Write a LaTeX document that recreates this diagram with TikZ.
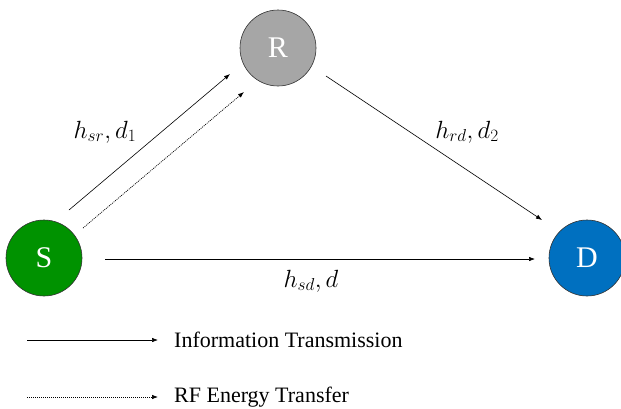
\documentclass[tikz,border=0pt]{standalone}
\usepackage{fontspec}
\setmainfont{Liberation Serif}
\usetikzlibrary{arrows.meta}
\definecolor{sgreen}{RGB}{0,146,0}
\definecolor{rgray}{RGB}{166,166,166}
\definecolor{dblue}{RGB}{0,112,192}
\tikzset{
  nodecirc/.style={circle, draw=black!80, line width=0.6pt, minimum size=76pt, inner sep=0pt, text=white, font=\fontsize{30}{34}\selectfont},
  arr/.style={-{Latex[length=6pt,width=4.5pt]}, line width=0.6pt},
  dotarr/.style={arr, dash pattern=on 1pt off 1pt, line width=0.7pt},
  lbl/.style={font=\fontsize{23}{26}\selectfont},
  legtxt/.style={anchor=west, font=\fontsize{22}{25}\selectfont, inner sep=0pt}
}
\begin{document}
\begin{tikzpicture}[x=1pt,y=-1pt]
\useasboundingbox (0,0) rectangle (621,408);
\node[nodecirc, fill=sgreen] (S) at (44,258) {S};
\node[nodecirc, fill=rgray] (R) at (278,48) {R};
\node[nodecirc, fill=dblue] (D) at (587,258) {D};
\coordinate (a1) at (69,210);
\coordinate (a2) at (230,74);
\coordinate (b1) at (83,228);
\coordinate (b2) at (244,92);
\coordinate (c1) at (326,76);
\coordinate (c2) at (542,220);
\coordinate (e1) at (105,259);
\coordinate (e2) at (535,259);
\draw[arr] (a1) -- (a2);
\draw[dotarr] (b1) -- (b2);
\draw[arr] (c1) -- (c2);
\draw[arr] (e1) -- (e2);
\node[lbl] (lsr) at (105,132) {$h_{sr},d_1$};
\node[lbl] (lrd) at (467,132) {$h_{rd},d_2$};
\node[lbl] (lsd) at (311,281) {$h_{sd},d$};
\coordinate (l1a) at (27,340);
\coordinate (l1b) at (158,340);
\coordinate (l2a) at (27,397);
\coordinate (l2b) at (158,397);
\draw[arr] (l1a) -- (l1b);
\draw[dotarr] (l2a) -- (l2b);
\node[legtxt] (t1) at (174,340) {Information Transmission};
\node[legtxt] (t2) at (174,397) {RF Energy Transfer};
\end{tikzpicture}
\end{document}
